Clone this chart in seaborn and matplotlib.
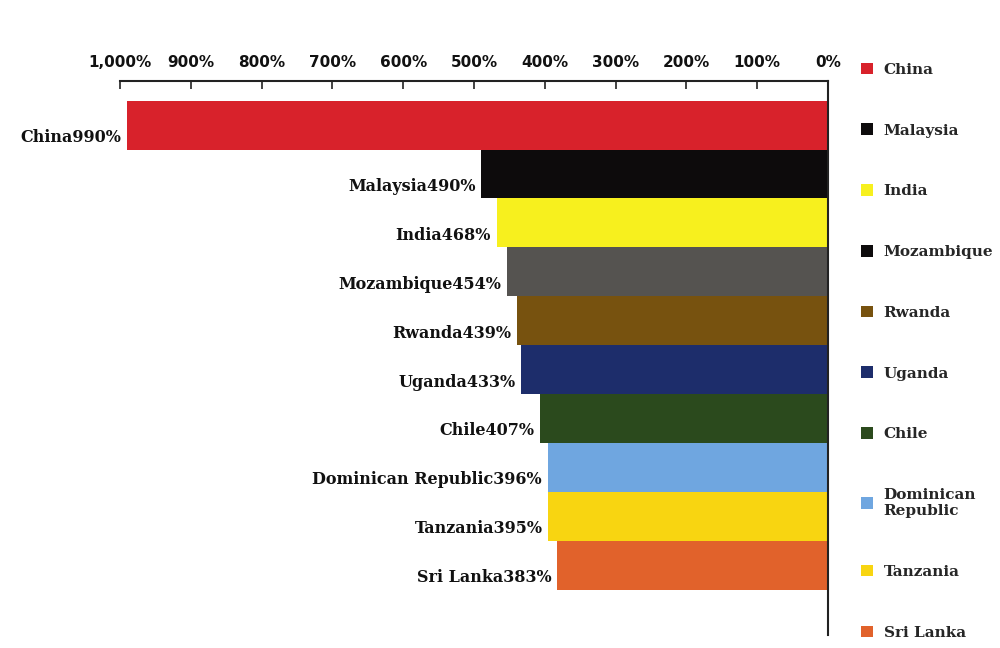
import matplotlib
matplotlib.use("Agg")
import matplotlib.pyplot as plt
import seaborn as sns
import pandas as pd
from matplotlib.patches import Patch
from matplotlib.ticker import FuncFormatter, MultipleLocator

countries = ["China", "Malaysia", "India", "Mozambique", "Rwanda", "Uganda",
             "Chile", "Dominican Republic", "Tanzania", "Sri Lanka"]
values = [990, 490, 468, 454, 439, 433, 407, 396, 395, 383]
bar_colors = ["#d8222b", "#0d0b0c", "#f7f01e", "#555350", "#77520f", "#1d2d6b",
              "#2b4a1d", "#6fa6e0", "#f8d511", "#e1622b"]
legend_labels = ["China", "Malaysia", "India", "Mozambique", "Rwanda", "Uganda",
                 "Chile", "Dominican\nRepublic", "Tanzania", "Sri Lanka"]
legend_colors = ["#d8222b", "#0d0b0c", "#f7f01e", "#0d0b0c", "#77520f", "#1d2d6b",
                 "#2b4a1d", "#6fa6e0", "#f8d511", "#e1622b"]

df = pd.DataFrame({"country": countries, "value": values})

sns.set_style("white")
fig = plt.figure(figsize=(10, 6.48), dpi=100)
ax = fig.add_axes([0.12, 0.02, 0.708, 0.855])

sns.barplot(data=df, y="country", x="value", hue="country",
            palette=dict(zip(countries, bar_colors)), orient="h",
            width=1.0, legend=False, ax=ax, saturation=1, linewidth=0)

ax.set_xlim(1000, 0)
ax.set_ylim(10.42, -0.9)
ax.xaxis.set_major_locator(MultipleLocator(100))
ax.xaxis.set_major_formatter(FuncFormatter(lambda v, p: f"{int(v):,}%"))
ax.xaxis.tick_top()
ax.tick_params(axis="x", direction="in", length=6, width=1.2, color="#222",
               labelsize=11, pad=8, labelcolor="#111")
ax.tick_params(axis="y", left=False, labelleft=False)
ax.set_xlabel("")
ax.set_ylabel("")
for side in ["left", "bottom"]:
    ax.spines[side].set_visible(False)
for side in ["top", "right"]:
    ax.spines[side].set_visible(True)
    ax.spines[side].set_color("#222")
    ax.spines[side].set_linewidth(1.5)
for lbl in ax.get_xticklabels():
    lbl.set_fontweight("bold")

for i, (c, v) in enumerate(zip(countries, values)):
    ax.text(v + 8, i + 0.25, f"{c}{v}%", ha="right", va="center",
            fontsize=11.5, fontweight="bold", family="DejaVu Serif", color="#111")

handles = [Patch(facecolor=col, edgecolor="none") for col in legend_colors]
leg = fig.legend(handles, legend_labels, loc="upper left",
                 bbox_to_anchor=(0.853, 0.915), frameon=False, borderpad=0,
                 handlelength=0.8, handleheight=0.8, handletextpad=0.7,
                 labelspacing=3.05,
                 prop={"family": "DejaVu Serif", "weight": "bold", "size": 11})

fig.savefig("out.png", dpi=100, facecolor="white")
